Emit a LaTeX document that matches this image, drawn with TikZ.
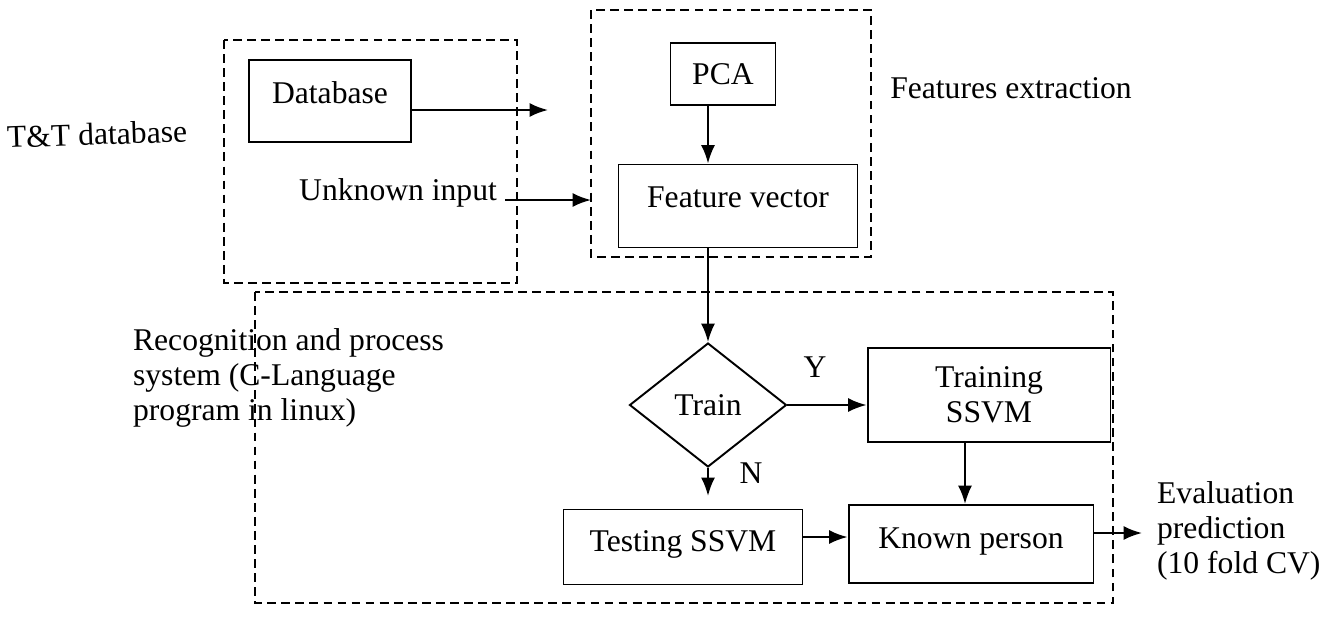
\documentclass[tikz,border=0pt]{standalone}
\usepackage{fontspec}
\setmainfont{Liberation Serif}
\usetikzlibrary{arrows.meta,shapes.geometric}

\tikzset{
  box/.style={draw, line width=1.1pt, inner sep=0pt, align=center},
  grp/.style={draw, line width=1pt, dash pattern=on 5pt off 3pt},
  link/.style={line width=1.2pt, -{Latex[length=10.5pt,width=8pt]}},
  txt/.style={inner sep=1pt, align=left}
}

\begin{document}
\begin{tikzpicture}[x=0.02cm, y=-0.02cm, font=\fontsize{18}{19.8}\selectfont]
\useasboundingbox (0,0) rectangle (1335,616);

% grouping frames
\draw[grp] (224,40) rectangle (517,283);
\draw[grp] (591,10) rectangle (871,257);
\draw[grp] (255,292) rectangle (1113,603);

% input side
\node[box, minimum width=3.24cm, minimum height=1.64cm, text depth=0.35cm] (db) at (330,101) {Database};
\node[txt, rotate=2] (tt) at (97,134) {T\&T database};
\node[txt, anchor=east] (unk) at (499,193) {Unknown input};
\coordinate (dbend) at (548,110);
\coordinate (unkend) at (591,200);

% features
\node[box, minimum width=2.1cm, minimum height=1.24cm] (pca) at (723,74) {PCA};
\node[box, minimum width=4.78cm, minimum height=1.66cm, text depth=0.35cm] (fv) at (738,206) {Feature vector};
\node[txt] (fx) at (1011,88) {Features extraction};

% recognition
\node[txt, anchor=west] (rec) at (131,378) {Recognition and process\\system (C-Language\\program in linux)};
\node[draw, diamond, line width=1.1pt, inner sep=0pt, minimum width=3.14cm, minimum height=2.48cm] (train) at (708,405) {Train};
\node[box, minimum width=4.86cm, minimum height=1.88cm] (training) at (989,395) {Training\\SSVM};
\node[box, minimum width=4.78cm, minimum height=1.5cm, text depth=0.25cm] (testing) at (683,547) {Testing SSVM};
\node[box, minimum width=4.9cm, minimum height=1.56cm, text depth=0.23cm] (known) at (971,544) {Known person};
\node[txt, anchor=west] (eval) at (1155,531) {Evaluation\\prediction\\(10 fold CV)};
\coordinate (nend) at ([yshift=-0.56cm]train.south);
\coordinate (evalend) at (1142,533);

\draw[link] (db.east |- dbend) -- (dbend);
\draw[link] (unk.east |- unkend) ++(6,0) -- (unkend);
\draw[link] (pca.south -| train.north) -- (fv.north -| train.north);
\draw[link] (fv.south -| train.north) -- (train.north);
\draw[link] (train.east) -- (train.east -| training.west) node[pos=0.35, above=12pt] (y) {Y};
\draw[link] (train.south) -- (nend) node[pos=0.2, right=14pt] (n) {N};
\draw[link] ([xshift=-0.12cm]training.south -| known.north) -- ([xshift=-0.12cm]known.north);
\draw[link] ([yshift=0.2cm]testing.east) -- ([yshift=0.2cm]testing.east -| known.west);
\draw[link] (known.east |- evalend) -- (evalend);

\end{tikzpicture}
\end{document}
